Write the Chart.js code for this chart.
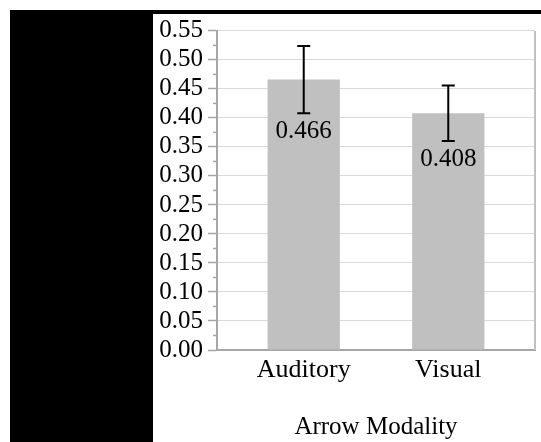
<!DOCTYPE html>
<html>
<head>
<meta charset="utf-8">
<script src="https://cdn.jsdelivr.net/npm/chart.js@4.4.1/dist/chart.umd.min.js"></script>
<style>
  html, body { margin: 0; padding: 0; background: #fff; }
  body { width: 541px; height: 442px; position: relative; overflow: hidden; }
  #topbar { position: absolute; left: 10px; top: 10px; width: 531px; height: 4px; background: #000; }
  #leftblock { position: absolute; left: 10px; top: 10px; width: 143px; height: 432px; background: #000; }
  #wrap { position: absolute; left: 153px; top: 14px; width: 388px; height: 428px; }
</style>
</head>
<body>
<div id="topbar"></div>
<div id="leftblock"></div>
<div id="wrap"><canvas id="chart"></canvas></div>
<script>
const categories = ["Auditory", "Visual"];
const means = [0.466, 0.408];
const errors = [0.058, 0.048];
const yTicks = [0, 0.05, 0.10, 0.15, 0.20, 0.25, 0.30, 0.35, 0.40, 0.45, 0.50, 0.55];
const xTitle = "Arrow Modality";

const fontFamily = "'Liberation Serif', 'Times New Roman', serif";
const axisGray = "#a6a6a6";

// error bars, value labels, minor ticks, right border
const extras = {
  id: "extras",
  afterDatasetsDraw(chart) {
    const ctx = chart.ctx;
    const x = chart.scales.x;
    const y = chart.scales.y;
    const area = chart.chartArea;
    ctx.save();

    // right border of plot area
    ctx.strokeStyle = "#c0c0c0";
    ctx.lineWidth = 2;
    ctx.beginPath();
    ctx.moveTo(area.right, area.top);
    ctx.lineTo(area.right, area.bottom);
    ctx.stroke();

    // minor ticks halfway between labels
    ctx.strokeStyle = axisGray;
    ctx.lineWidth = 1.5;
    for (let i = 0; i < yTicks.length - 1; i++) {
      const py = y.getPixelForValue((yTicks[i] + yTicks[i + 1]) / 2);
      ctx.beginPath();
      ctx.moveTo(area.left - 4, py);
      ctx.lineTo(area.left, py);
      ctx.stroke();
    }

    means.forEach((m, i) => {
      const px = x.getPixelForValue(i);
      const top = y.getPixelForValue(m + errors[i]);
      const bot = y.getPixelForValue(m - errors[i]);
      ctx.strokeStyle = "#000";
      ctx.lineWidth = 2;
      ctx.beginPath();
      ctx.moveTo(px, top);
      ctx.lineTo(px, bot);
      ctx.moveTo(px - 6.5, top);
      ctx.lineTo(px + 6.5, top);
      ctx.moveTo(px - 6.5, bot);
      ctx.lineTo(px + 6.5, bot);
      ctx.stroke();

      ctx.fillStyle = "#000";
      ctx.font = "25px " + fontFamily;
      ctx.textAlign = "center";
      ctx.textBaseline = "middle";
      ctx.fillText(m.toFixed(3), px, bot + 18);
    });
    ctx.restore();
  }
};

new Chart(document.getElementById("chart"), {
  type: "bar",
  data: {
    datasets: [{
      data: means.map((v, i) => ({ x: i, y: v })),
      backgroundColor: "#c0c0c0",
      borderWidth: 0,
      categoryPercentage: 1,
      barPercentage: 0.5
    }]
  },
  options: {
    responsive: true,
    maintainAspectRatio: false,
    animation: false,
    layout: { padding: { top: 14, right: 6, left: 0, bottom: 0 } },
    plugins: {
      legend: { display: false },
      tooltip: { enabled: false }
    },
    scales: {
      x: {
        type: "linear",
        offset: false,
        min: -0.6,
        max: 1.6,
        afterBuildTicks: scale => { scale.ticks = categories.map((c, i) => ({ value: i })); },
        afterFit: scale => { scale.height = 92; },
        grid: { display: false, drawTicks: false, offset: false },
        border: { display: true, color: axisGray, width: 2 },
        ticks: {
          padding: 5,
          color: "#000",
          font: { family: fontFamily, size: 26 },
          callback: v => categories[v]
        },
        title: {
          display: true,
          text: xTitle,
          color: "#000",
          font: { family: fontFamily, size: 25 },
          padding: { top: 0, bottom: 0 }
        }
      },
      y: {
        min: 0,
        max: 0.55,
        afterBuildTicks: scale => { scale.ticks = yTicks.map(v => ({ value: v })); },
        afterFit: scale => { scale.width = 64; },
        grid: {
          color: "#d9d9d9",
          lineWidth: 1,
          tickLength: 9,
          tickColor: axisGray,
          tickWidth: 1.5
        },
        border: { display: true, color: axisGray, width: 2 },
        ticks: {
          autoSkip: false,
          padding: 5,
          color: "#000",
          font: { family: fontFamily, size: 25, lineHeight: 0.95 },
          callback: v => v.toFixed(2)
        }
      }
    }
  },
  plugins: [extras]
});
</script>
</body>
</html>
